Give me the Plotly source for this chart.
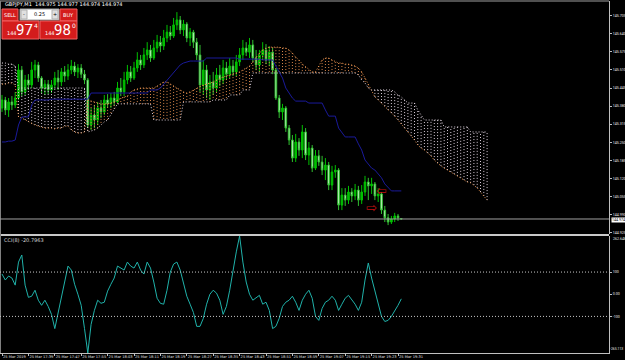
import plotly.graph_objects as go

# ---------------- data ----------------
symbol_header = "GBPJPY,M1  144.975 144.977 144.974 144.974"

opens = [145.373,145.402,145.366,145.395,145.384,145.409,145.510,145.431,145.474,145.456,
         145.510,145.528,145.481,145.445,145.459,145.438,145.456,145.481,145.467,145.503,
         145.488,145.510,145.524,145.503,145.517,145.495,145.474,145.312,145.348,145.330,
         145.373,145.359,145.402,145.388,145.409,145.395,145.445,145.431,145.474,145.503,
         145.481,145.517,145.546,145.528,145.564,145.582,145.553,145.589,145.610,145.596,
         145.625,145.646,145.632,145.672,145.690,145.654,145.675,145.625,145.646,145.610,
         145.564,145.456,145.510,145.438,145.467,145.445,145.492,145.474,145.517,145.495,
         145.524,145.503,145.539,145.564,145.589,145.574,145.600,145.553,145.528,145.564,
         145.582,145.546,145.574,145.510,145.409,145.359,145.373,145.301,145.258,145.193,
         145.251,145.222,145.287,145.204,145.229,145.157,145.201,145.179,145.150,145.168,
         145.096,145.143,145.150,145.024,145.060,145.042,145.071,145.057,145.078,145.042,
         145.071,145.107,145.093,145.100,145.057,145.064,145.006,144.978,144.963,144.974,
         144.985,144.975]
closes = [145.402,145.366,145.395,145.384,145.409,145.510,145.431,145.474,145.456,145.510,
          145.528,145.481,145.445,145.459,145.438,145.456,145.481,145.467,145.503,145.488,
          145.510,145.524,145.503,145.517,145.495,145.474,145.312,145.348,145.330,145.373,
          145.359,145.402,145.388,145.409,145.395,145.445,145.431,145.474,145.503,145.481,
          145.517,145.546,145.528,145.564,145.582,145.553,145.589,145.610,145.596,145.625,
          145.646,145.632,145.672,145.690,145.654,145.675,145.625,145.646,145.610,145.564,
          145.456,145.510,145.438,145.467,145.445,145.492,145.474,145.517,145.495,145.524,
          145.503,145.539,145.564,145.589,145.574,145.600,145.553,145.528,145.564,145.582,
          145.546,145.574,145.510,145.409,145.359,145.373,145.301,145.258,145.193,145.251,
          145.222,145.287,145.204,145.229,145.157,145.201,145.179,145.150,145.168,145.096,
          145.143,145.150,145.024,145.060,145.042,145.071,145.057,145.078,145.042,145.071,
          145.107,145.093,145.100,145.057,145.064,145.006,144.978,144.963,144.974,144.985,
          144.978,144.974]
highs = [145.420,145.413,145.409,145.416,145.431,145.531,145.524,145.492,145.495,145.539,
         145.546,145.539,145.488,145.474,145.474,145.474,145.503,145.510,145.517,145.524,
         145.531,145.546,145.539,145.531,145.531,145.510,145.481,145.373,145.384,145.395,
         145.402,145.420,145.423,145.427,145.431,145.467,145.481,145.503,145.528,145.524,
         145.539,145.574,145.564,145.589,145.610,145.600,145.618,145.636,145.632,145.654,
         145.672,145.668,145.697,145.718,145.704,145.690,145.682,145.661,145.654,145.625,
         145.600,145.546,145.528,145.492,145.503,145.517,145.528,145.546,145.539,145.553,
         145.546,145.564,145.589,145.618,145.610,145.625,145.618,145.582,145.582,145.610,
         145.603,145.596,145.589,145.517,145.420,145.388,145.380,145.312,145.276,145.280,
         145.265,145.312,145.301,145.251,145.240,145.222,145.222,145.201,145.193,145.179,
         145.165,145.168,145.157,145.085,145.085,145.093,145.085,145.100,145.093,145.096,
         145.129,145.122,145.122,145.107,145.085,145.071,145.021,144.992,144.985,144.996,
         144.992,144.977]
lows = [145.359,145.348,145.341,145.366,145.373,145.402,145.416,145.420,145.438,145.445,
        145.481,145.467,145.427,145.420,145.423,145.427,145.445,145.438,145.452,145.467,
        145.474,145.495,145.488,145.481,145.481,145.459,145.301,145.294,145.301,145.312,
        145.337,145.348,145.373,145.373,145.380,145.388,145.416,145.416,145.459,145.467,
        145.474,145.503,145.510,145.517,145.546,145.539,145.546,145.574,145.574,145.582,
        145.610,145.618,145.625,145.654,145.639,145.632,145.610,145.596,145.589,145.546,
        145.431,145.420,145.409,145.402,145.420,145.431,145.452,145.459,145.474,145.481,
        145.488,145.488,145.524,145.546,145.560,145.553,145.539,145.510,145.503,145.546,
        145.531,145.524,145.495,145.402,145.337,145.330,145.287,145.240,145.179,145.179,
        145.201,145.193,145.186,145.168,145.143,145.150,145.165,145.132,145.114,145.078,
        145.078,145.122,145.006,145.006,145.021,145.028,145.035,145.042,145.021,145.028,
        145.057,145.042,145.064,145.042,145.035,144.992,144.963,144.952,144.956,144.963,
        144.967,144.974]

# Ichimoku Senkou spans (already shifted 26 bars ahead)
span_a = [145.459,145.459,145.463,145.463,145.456,145.341,145.337,145.330,145.323,145.316,
          145.312,145.308,145.305,145.301,145.301,145.301,145.298,145.301,145.301,145.308,
          145.308,145.294,145.287,145.283,145.283,145.287,145.402,145.398,145.395,145.391,
          145.388,145.388,145.388,145.391,145.395,145.402,145.409,145.413,145.416,145.431,
          145.438,145.441,145.445,145.445,145.445,145.445,145.445,145.452,145.459,145.467,
          145.467,145.459,145.452,145.445,145.438,145.431,145.427,145.431,145.438,145.445,
          145.452,145.456,145.459,145.463,145.467,145.474,145.481,145.485,145.488,145.492,
          145.495,145.499,145.503,145.510,145.517,145.524,145.539,145.556,145.571,145.582,
          145.589,145.592,145.592,145.592,145.592,145.589,145.589,145.582,145.571,145.556,
          145.546,145.531,145.521,145.510,145.503,145.503,145.524,145.546,145.553,145.553,
          145.546,145.539,145.535,145.535,145.531,145.531,145.528,145.524,145.517,145.503,
          145.481,145.459,145.438,145.413,145.402,145.391,145.380,145.366,145.355,145.344,
          145.330,145.316,145.301,145.287,145.272,145.258,145.240,145.229,145.222,145.211,
          145.201,145.186,145.175,145.165,145.157,145.150,145.143,145.136,145.129,145.122,
          145.114,145.107,145.104,145.096,145.086,145.071,145.057,145.042]
span_b = [145.535,145.535,145.531,145.531,145.524,145.445,145.445,145.445,145.445,145.445,
          145.445,145.445,145.445,145.445,145.445,145.445,145.445,145.445,145.445,145.445,
          145.445,145.445,145.445,145.445,145.445,145.445,145.287,145.290,145.294,145.301,
          145.312,145.323,145.330,145.348,145.366,145.388,145.388,145.388,145.388,145.388,
          145.388,145.388,145.388,145.388,145.388,145.388,145.330,145.330,145.330,145.330,
          145.330,145.330,145.330,145.330,145.330,145.395,145.395,145.395,145.395,145.395,
          145.395,145.395,145.395,145.395,145.402,145.402,145.402,145.402,145.402,145.420,
          145.420,145.420,145.420,145.438,145.438,145.438,145.499,145.499,145.499,145.499,
          145.499,145.499,145.499,145.499,145.499,145.499,145.499,145.499,145.499,145.499,
          145.499,145.499,145.499,145.499,145.499,145.499,145.499,145.499,145.499,145.499,
          145.499,145.499,145.499,145.499,145.499,145.499,145.499,145.499,145.492,145.474,
          145.463,145.445,145.438,145.438,145.438,145.438,145.438,145.438,145.438,145.431,
          145.420,145.413,145.402,145.391,145.391,145.391,145.366,145.348,145.330,145.330,
          145.330,145.330,145.330,145.330,145.305,145.305,145.305,145.305,145.305,145.305,
          145.305,145.305,145.287,145.287,145.287,145.287,145.287,145.287]

kijun = [145.251,145.251,145.254,145.254,145.258,145.312,145.341,145.341,145.341,145.384,
         145.402,145.402,145.402,145.402,145.402,145.405,145.405,145.405,145.405,145.405,
         145.405,145.405,145.405,145.405,145.405,145.405,145.405,145.427,145.427,145.427,
         145.427,145.427,145.427,145.427,145.427,145.427,145.427,145.427,145.427,145.427,
         145.427,145.427,145.427,145.427,145.427,145.438,145.438,145.438,145.445,145.459,
         145.474,145.488,145.503,145.517,145.528,145.535,145.539,145.542,145.542,145.542,
         145.542,145.542,145.553,145.553,145.553,145.553,145.553,145.553,145.553,145.553,
         145.553,145.553,145.549,145.549,145.549,145.549,145.549,145.549,145.549,145.546,
         145.546,145.546,145.546,145.524,145.503,145.481,145.445,145.427,145.409,145.398,
         145.398,145.398,145.398,145.391,145.391,145.391,145.391,145.391,145.366,145.344,
         145.344,145.344,145.301,145.287,145.269,145.269,145.269,145.269,145.244,145.222,
         145.186,145.172,145.157,145.150,145.136,145.122,145.100,145.086,145.075,145.075,
         145.075,145.075]

cci = [91,64,82,73,41,145,177,41,-14,-9,
       18,-27,-50,-27,-55,-91,-155,-82,-9,59,
       127,109,45,0,-50,-155,-265.113,-136,-73,-27,
       -41,-36,14,45,73,127,118,109,145,127,
       118,145,109,91,145,118,55,-18,-41,-45,
       18,100,136,145,109,55,-9,-45,-82,-145,
       -145,-109,-45,0,18,5,-27,-91,-55,18,
       109,191,262.648,145,55,0,-27,-14,-5,-45,
       -36,-73,-155,-145,-109,-55,-36,-27,-9,-36,
       -73,-27,0,18,-18,-100,-118,-64,-36,-27,
       -9,-27,-73,-45,-18,-5,-23,-45,-73,-36,
       64,141,73,18,-50,-100,-123,-118,-100,-77,
       -50,-20.7963]

arrow_idx = [115, 112]
arrow_price = [145.071, 145.010]
arrow_glyph = ["\u21e6", "\u21e8"]

bid_price = 144.974
sell_big, sell_small, sell_sup = "97", "144", "4"
buy_big, buy_small, buy_sup = "98", "144", "0"
lot_text = "0.25"

price_ticks = [145.705,145.640,145.575,145.510,145.445,145.380,145.315,145.250,
               145.185,145.120,145.055,144.990,144.925]
price_labels = ["145.705","145.640","145.575","145.510","145.445","145.380","145.315",
                "145.250","145.185","145.120","145.055","144.990","144.925"]
cci_ticks = [100, 0, -100]
cci_labels = ["100", "0.00", "-100"]
cci_max_label, cci_min_label = "262.648", "-265.113"
cci_title = "CCI(8) -20.7963"

time_idx = [0, 8, 16, 24, 32, 40, 48, 56, 64, 72, 80, 88, 96, 104, 112, 120]
time_labels = ["25 Mar 2019", "25 Mar 17:39", "25 Mar 17:47", "25 Mar 17:55",
               "25 Mar 18:03", "25 Mar 18:11", "25 Mar 18:19", "25 Mar 18:27",
               "25 Mar 18:35", "25 Mar 18:43", "25 Mar 18:51", "25 Mar 18:59",
               "25 Mar 19:07", "25 Mar 19:15", "25 Mar 19:23", "25 Mar 19:31"]

# ---------------- layout helpers (pixel positions for decorations) ----------------
W, H = 625, 360
ML, MR, MT, MB = 0, 16, 1, 7
PW, PH = W - ML - MR, H - MT - MB


def px(x):
    return (x - ML) / PW


def py(y):
    return (H - MB - y) / PH


FONT = "DejaVu Sans"
NARROW = "Roboto"
bars = list(range(len(closes)))
cloud_x = list(range(len(span_a)))

fig = go.Figure()

# cloud: dotted vertical strokes between spans
ox, oy, tx, ty = [], [], [], []
for i, a, b in zip(cloud_x, span_a, span_b):
    if a >= b:
        ox += [i, i, None]; oy += [a, b, None]
    else:
        tx += [i, i, None]; ty += [a, b, None]
fig.add_trace(go.Scatter(x=ox, y=oy, mode="lines", hoverinfo="skip",
                         line=dict(color="#D8864A", width=1, dash="1px,2px")))
fig.add_trace(go.Scatter(x=tx, y=ty, mode="lines", hoverinfo="skip",
                         line=dict(color="#D8CCD8", width=1, dash="1px,2px")))
fig.add_trace(go.Scatter(x=cloud_x, y=span_a, mode="lines", hoverinfo="skip",
                         line=dict(color="#F09850", width=1, dash="1px,2px")))
fig.add_trace(go.Scatter(x=cloud_x, y=span_b, mode="lines", hoverinfo="skip",
                         line=dict(color="#E0D4E0", width=1, dash="1px,2px")))

# Kijun-sen
fig.add_trace(go.Scatter(x=bars, y=kijun, mode="lines", hoverinfo="skip",
                         line=dict(color="#1A1A9A", width=1)))

# candles
fig.add_trace(go.Candlestick(
    x=bars, open=opens, high=highs, low=lows, close=closes,
    increasing=dict(line=dict(color="#00C000", width=1), fillcolor="#00C000"),
    decreasing=dict(line=dict(color="#30C030", width=1), fillcolor="#E8FFE8"),
    whiskerwidth=0, hoverinfo="skip"))

# trade arrows
fig.add_trace(go.Scatter(x=arrow_idx, y=arrow_price, mode="text", text=arrow_glyph,
                         textfont=dict(family=FONT, size=13, color="#C01010"),
                         hoverinfo="skip"))

# CCI
fig.add_trace(go.Scatter(x=bars, y=cci, mode="lines", xaxis="x2", yaxis="y2",
                         hoverinfo="skip", line=dict(color="#20B2AA", width=1)))

x_range = [-2 / 3.3, (PW - 2) / 3.3]
axis_col = "#C0C0C0"
lab_font = dict(family=NARROW, size=3.6, color="#E8E8E8")
time_font = dict(family=FONT, size=3.6, color="#E0E0E0")

shapes = [
    # borders / separators
    dict(type="line", xref="paper", yref="paper", x0=0, x1=1, y0=1, y1=1,
         line=dict(color="#A0A0A0", width=1)),
    dict(type="line", xref="paper", yref="paper", x0=0, x1=1, y0=py(235), y1=py(235),
         line=dict(color="#C8C8C8", width=2)),
    dict(type="line", xref="paper", yref="paper", x0=px(0.5), x1=px(0.5), y0=0, y1=1,
         line=dict(color="#808080", width=1)),
    # bid line
    dict(type="line", xref="paper", yref="y", x0=0, x1=1, y0=bid_price, y1=bid_price,
         line=dict(color="#A0A0A0", width=1)),
    # CCI levels
    dict(type="line", xref="paper", yref="y2", x0=0, x1=1, y0=100, y1=100,
         line=dict(color="#C8C8C8", width=1, dash="1px,2px")),
    dict(type="line", xref="paper", yref="y2", x0=0, x1=1, y0=-100, y1=-100,
         line=dict(color="#C8C8C8", width=1, dash="1px,2px")),
]

# one-click trading panel
red = "#D41C1C"
edge = "#F06060"


def rect(x0, y0, x1, y1, fill, line):
    return dict(type="rect", xref="paper", yref="paper", x0=px(x0), x1=px(x1),
                y0=py(y1), y1=py(y0), fillcolor=fill, line=dict(color=line, width=1))


shapes += [
    rect(2, 9, 18, 21, red, edge),
    rect(20, 9, 59, 20, "#FFFFFF", "#A0A0A0"),
    rect(21, 10, 27, 19, "#E0E0E0", "#B0B0B0"),
    rect(52, 10, 58, 19, "#E0E0E0", "#B0B0B0"),
    rect(60, 9, 77, 21, red, edge),
    rect(2, 21, 39, 39, red, edge),
    rect(40, 21, 77, 39, red, edge),
]


def ann(x, y, text, size, color="#FFFFFF", xanchor="left", bg=None, family=FONT):
    d = dict(xref="paper", yref="paper", x=px(x), y=py(y), text=text, showarrow=False,
             xanchor=xanchor, yanchor="middle", borderpad=0,
             font=dict(family=family, size=size, color=color))
    if bg:
        d["bgcolor"] = bg
    return d


num_font = "Roboto"
annotations = [
    ann(4, 4.5, symbol_header, 5),
    ann(10, 15, "SELL", 5, xanchor="center"),
    ann(68.5, 15, "BUY", 5, xanchor="center"),
    ann(24, 14.5, "-", 5, color="#000000", xanchor="center"),
    ann(55, 14.5, "+", 5, color="#000000", xanchor="center"),
    ann(46, 14.5, lot_text, 5, color="#000000", xanchor="right"),
    ann(11.5, 33.5, sell_small, 5, xanchor="center"),
    ann(24, 30, sell_big, 15, xanchor="center", family=num_font),
    ann(35.5, 25, sell_sup, 6, xanchor="center"),
    ann(49.5, 33.5, buy_small, 5, xanchor="center"),
    ann(62, 30, buy_big, 15, xanchor="center", family=num_font),
    ann(73.5, 25, buy_sup, 6, xanchor="center"),
    ann(3, 240, cci_title, 5, color="#D8D8D8"),
    ann(611, 219.5, f"{bid_price:.3f}", 3.6, color="#000000", bg="#FFFFFF",
        family=NARROW),
    ann(611.5, 239.5, cci_max_label, 3.6, color="#E8E8E8", family=NARROW),
    ann(624, 348.5, cci_min_label, 3.4, color="#E8E8E8", family=NARROW,
        xanchor="right"),
]

fig.update_layout(
    width=W, height=H,
    margin=dict(l=ML, r=MR, t=MT, b=MB, pad=0, autoexpand=False),
    paper_bgcolor="#000000", plot_bgcolor="#000000",
    showlegend=False,
    font=dict(family=FONT, size=5, color="#E0E0E0"),
    xaxis=dict(domain=[0, 1], range=x_range, anchor="y", showticklabels=False,
               showgrid=False, zeroline=False, rangeslider=dict(visible=False),
               fixedrange=True, automargin=False),
    xaxis2=dict(domain=[0, 1], range=x_range, anchor="y2", tickmode="array",
                tickvals=time_idx, ticktext=time_labels, ticks="outside", ticklen=2,
                tickcolor=axis_col, tickfont=time_font, ticklabelposition="outside right",
                tickangle=0, automargin=False,
                showgrid=False, zeroline=False, showline=True, linecolor=axis_col,
                linewidth=1),
    yaxis=dict(domain=[py(234), 1], range=[144.920, 145.758], side="right", anchor="x",
               tickmode="array", tickvals=price_ticks, ticktext=price_labels,
               ticks="outside", ticklen=2, tickcolor=axis_col, tickfont=lab_font,
               automargin=False,
               showgrid=False, zeroline=False, showline=True, linecolor=axis_col,
               linewidth=1),
    yaxis2=dict(domain=[0, py(236)], range=[-265.113, 262.648], side="right",
                anchor="x2", tickmode="array", tickvals=cci_ticks, ticktext=cci_labels,
                ticks="outside", ticklen=2, tickcolor=axis_col, tickfont=lab_font,
                automargin=False,
                showgrid=False, zeroline=False, showline=True, linecolor=axis_col,
                linewidth=1),
    shapes=shapes,
    annotations=annotations,
)

fig.write_html("out.html")
